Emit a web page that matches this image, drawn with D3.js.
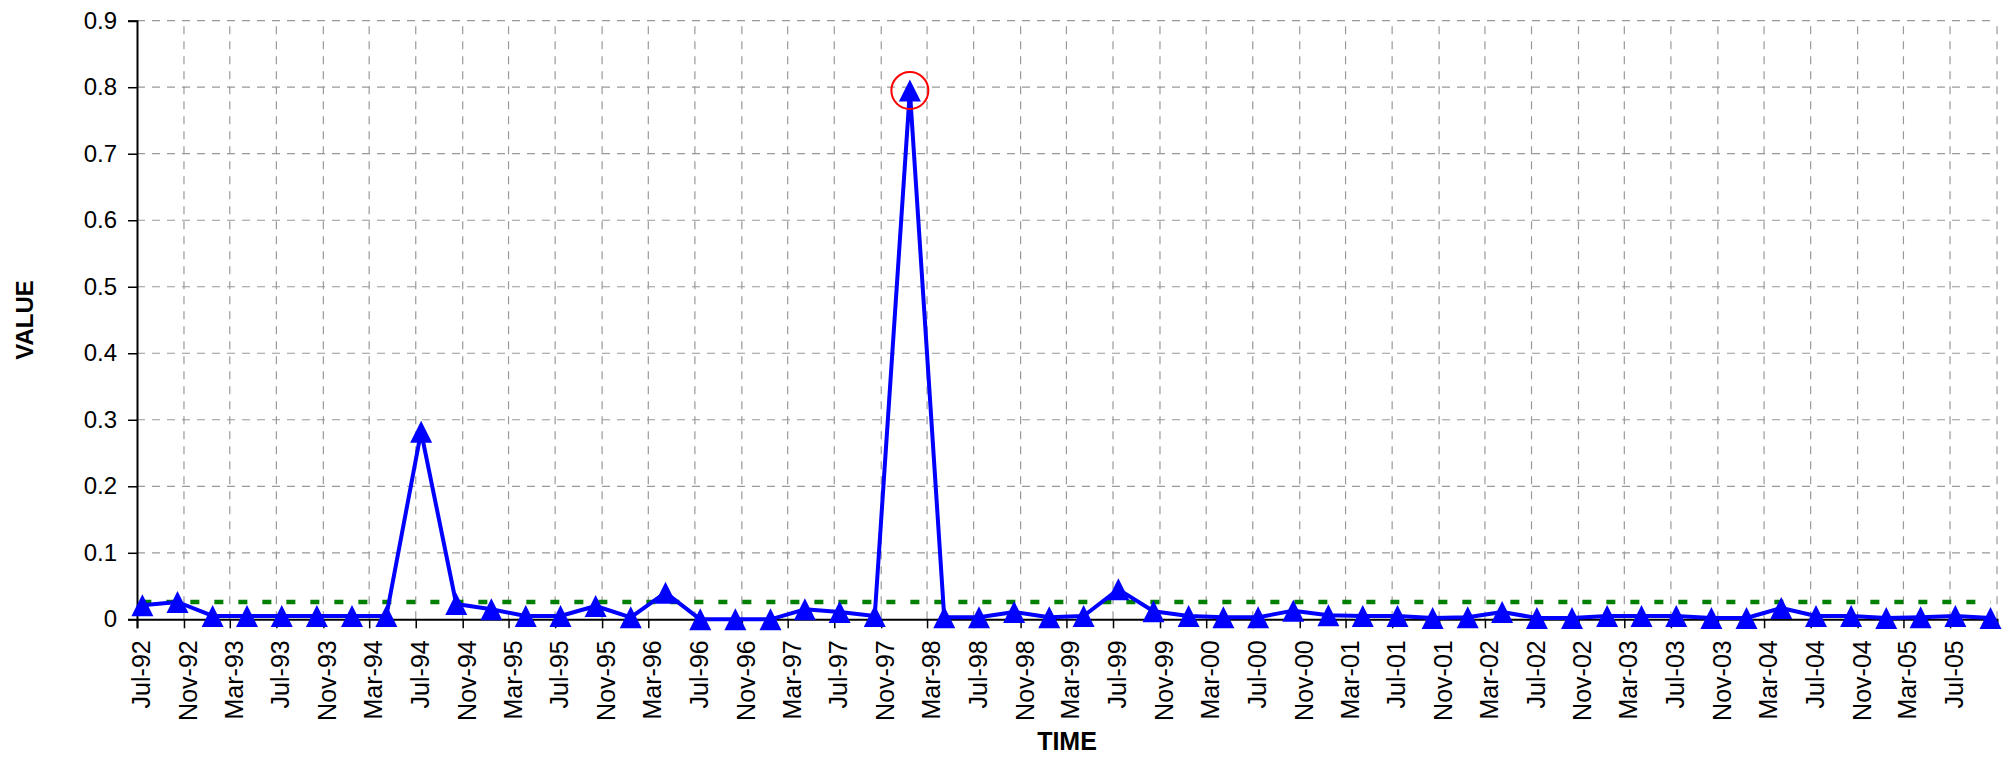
<!DOCTYPE html>
<html>
<head>
<meta charset="utf-8">
<script src="https://cdn.jsdelivr.net/npm/d3@7"></script>
<style>
  body { margin: 0; background: #fff; }
  text { font-family: "Liberation Sans", Arial, sans-serif; }
</style>
</head>
<body>
<div id="vis"></div>
<script>
var width = 2013;
var height = 758;

// quarterly readings
var dates = [
  "1992-07-15", "1992-10-15", "1993-01-15", "1993-04-15", "1993-07-15", "1993-10-15",
  "1994-01-15", "1994-04-15", "1994-07-15", "1994-10-15", "1995-01-15", "1995-04-15",
  "1995-07-15", "1995-10-15", "1996-01-15", "1996-04-15", "1996-07-15", "1996-10-15",
  "1997-01-15", "1997-04-15", "1997-07-15", "1997-10-15", "1998-01-15", "1998-04-15",
  "1998-07-15", "1998-10-15", "1999-01-15", "1999-04-15", "1999-07-15", "1999-10-15",
  "2000-01-15", "2000-04-15", "2000-07-15", "2000-10-15", "2001-01-15", "2001-04-15",
  "2001-07-15", "2001-10-15", "2002-01-15", "2002-04-15", "2002-07-15", "2002-10-15",
  "2003-01-15", "2003-04-15", "2003-07-15", "2003-10-15", "2004-01-15", "2004-04-15",
  "2004-07-15", "2004-10-15", "2005-01-15", "2005-04-15", "2005-07-15", "2005-10-15"
];
var values = [
  0.021, 0.026, 0.005, 0.005, 0.005, 0.005,
  0.005, 0.005, 0.282, 0.023, 0.015, 0.005,
  0.005, 0.020, 0.003, 0.040, 0.000, 0.000,
  0.000, 0.015, 0.011, 0.005, 0.795, 0.003,
  0.003, 0.011, 0.003, 0.005, 0.045, 0.012,
  0.005, 0.003, 0.003, 0.013, 0.006, 0.005,
  0.005, 0.002, 0.003, 0.011, 0.002, 0.002,
  0.005, 0.005, 0.005, 0.002, 0.002, 0.017,
  0.005, 0.005, 0.002, 0.003, 0.005, 0.002
];
var threshold = 0.026;

var xTickLabels = [
  "Jul-92", "Nov-92", "Mar-93", "Jul-93", "Nov-93", "Mar-94", "Jul-94", "Nov-94",
  "Mar-95", "Jul-95", "Nov-95", "Mar-96", "Jul-96", "Nov-96", "Mar-97", "Jul-97",
  "Nov-97", "Mar-98", "Jul-98", "Nov-98", "Mar-99", "Jul-99", "Nov-99", "Mar-00",
  "Jul-00", "Nov-00", "Mar-01", "Jul-01", "Nov-01", "Mar-02", "Jul-02", "Nov-02",
  "Mar-03", "Jul-03", "Nov-03", "Mar-04", "Jul-04", "Nov-04", "Mar-05", "Jul-05"
];
var xEnd = "Nov-05";
var yTicks = [0, 0.1, 0.2, 0.3, 0.4, 0.5, 0.6, 0.7, 0.8, 0.9];

var margin = {top: 20.7, right: 16, bottom: 138.7, left: 137};

var parseDay = d3.timeParse("%Y-%m-%d");
var parseMonth = d3.timeParse("%b-%y");

var data = dates.map((d, i) => ({date: parseDay(d), value: values[i]}));
var tickDates = xTickLabels.map(parseMonth);
var endDate = parseMonth(xEnd);

var x = d3.scaleTime()
  .domain([tickDates[0], endDate])
  .range([margin.left, width - margin.right]);

var y = d3.scaleLinear()
  .domain([0, 0.9])
  .range([height - margin.bottom, margin.top]);

var svg = d3.select("#vis")
  .append("svg")
  .attr("width", width)
  .attr("height", height)
  .attr("viewBox", [0, 0, width, height]);

// grid
var grid = svg.append("g")
  .attr("stroke", "#999")
  .attr("stroke-width", 1.2)
  .attr("stroke-dasharray", "8,7");

grid.selectAll(".gx")
  .data(tickDates.slice(1).concat([endDate]))
  .enter()
  .append("line")
  .attr("x1", d => x(d))
  .attr("x2", d => x(d))
  .attr("y1", y(0))
  .attr("y2", y(0.9));

grid.selectAll(".gy")
  .data(yTicks.slice(1))
  .enter()
  .append("line")
  .attr("x1", x.range()[0])
  .attr("x2", x.range()[1])
  .attr("y1", d => y(d))
  .attr("y2", d => y(d));

// axes
var xAxis = d3.axisBottom(x)
  .tickValues(tickDates)
  .tickSize(9)
  .tickFormat((d, i) => xTickLabels[i]);

var gx = svg.append("g")
  .attr("transform", `translate(0,${y(0)})`)
  .call(xAxis);

gx.select(".domain").attr("stroke", "#000").attr("stroke-width", 2);
gx.selectAll(".tick line").attr("stroke", "#000").attr("stroke-width", 1.5);
gx.selectAll(".tick text")
  .attr("fill", "#000")
  .style("font-size", "25px")
  .attr("transform", "rotate(-90)")
  .attr("text-anchor", "end")
  .attr("x", -21)
  .attr("y", 0)
  .attr("dy", "0.5em");

var yAxis = d3.axisLeft(y)
  .tickValues(yTicks)
  .tickSize(9)
  .tickPadding(11)
  .tickFormat(d3.format(".1~f"));

var gy = svg.append("g")
  .attr("transform", `translate(${margin.left},0)`)
  .call(yAxis);

gy.select(".domain").attr("stroke", "#000").attr("stroke-width", 2);
gy.selectAll(".tick line").attr("stroke", "#000").attr("stroke-width", 1.5);
gy.selectAll(".tick text")
  .attr("fill", "#000")
  .style("font-size", "24px");

// threshold
svg.append("line")
  .attr("x1", x(data[0].date))
  .attr("x2", x(data[data.length - 1].date))
  .attr("y1", y(threshold))
  .attr("y2", y(threshold))
  .attr("stroke", "#008000")
  .attr("stroke-width", 4.5)
  .attr("stroke-dasharray", "9,15");

// series
var line = d3.line()
  .x(d => x(d.date))
  .y(d => y(d.value));

svg.append("path")
  .datum(data)
  .attr("fill", "none")
  .attr("stroke", "#0000ff")
  .attr("stroke-width", 4)
  .attr("stroke-linejoin", "round")
  .attr("d", line);

var tri = "M0,-11L11,11L-11,11Z";
svg.append("g")
  .attr("fill", "#0000ff")
  .selectAll("path")
  .data(data)
  .enter()
  .append("path")
  .attr("transform", d => `translate(${x(d.date)},${y(d.value)})`)
  .attr("d", tri);

// circle the maximum
var peak = data.reduce((a, b) => (b.value > a.value ? b : a));
svg.append("circle")
  .attr("cx", x(peak.date))
  .attr("cy", y(peak.value))
  .attr("r", 18.5)
  .attr("fill", "none")
  .attr("stroke", "#ff0000")
  .attr("stroke-width", 2);

// titles
svg.append("text")
  .attr("x", (x.range()[0] + x.range()[1]) / 2)
  .attr("y", 750)
  .attr("text-anchor", "middle")
  .style("font-size", "25px")
  .style("font-weight", "bold")
  .text("TIME");

svg.append("text")
  .attr("transform", `translate(33,${(y(0) + y(0.9)) / 2}) rotate(-90)`)
  .attr("text-anchor", "middle")
  .style("font-size", "24px")
  .style("font-weight", "bold")
  .text("VALUE");
</script>
</body>
</html>
